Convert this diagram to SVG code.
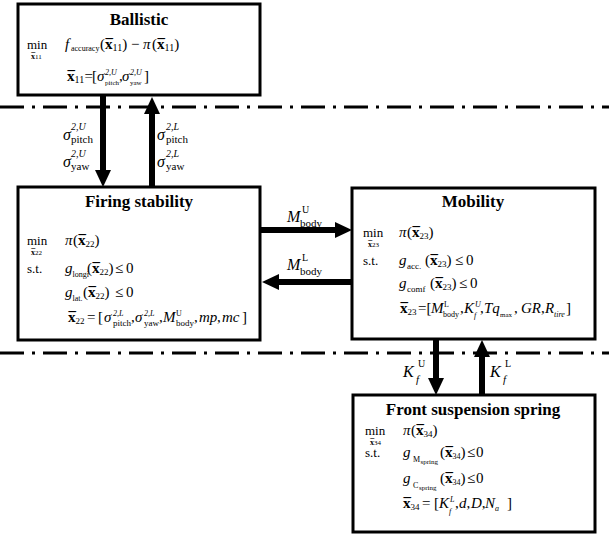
<svg xmlns="http://www.w3.org/2000/svg" width="609" height="534" viewBox="0 0 609 534">
<style>
text{font-family:"Liberation Serif","Times New Roman",serif;fill:#000}
.t{font-size:17px;font-weight:bold;text-anchor:middle}
.m{font-size:15px}
.k{font-size:13px}
.l{font-size:16px}
.i{font-style:italic}
.b{font-weight:bold}
.n{font-size:9px}
.n10{font-size:10px}
.s{font-size:8px}
.sm{font-size:9px}
.xs{font-size:7px}
.ls{font-size:11px}
.lp{font-size:10px}
.box{fill:#fff;stroke:#000;stroke-width:3}
.dd{stroke:#000;stroke-width:3;stroke-dasharray:24 8 3 8;fill:none}
.sh{stroke:#000;stroke-width:6;fill:none}
.hd{fill:#000}
</style>
<g id="connectors">
<line class="dd" x1="0" y1="107" x2="609" y2="107"/>
<line class="dd" x1="0" y1="353" x2="609" y2="353"/>
<line class="sh" x1="103" y1="96" x2="103" y2="172"/>
<polygon class="hd" points="95,170 111,170 103,187"/>
<line class="sh" x1="152" y1="187" x2="152" y2="112"/>
<polygon class="hd" points="144,114 160,114 152,97"/>
<line class="sh" x1="260" y1="230" x2="337" y2="230"/>
<polygon class="hd" points="335,222 335,238 352,230"/>
<line class="sh" x1="352" y1="282" x2="277" y2="282"/>
<polygon class="hd" points="279,274 279,290 262,282"/>
<line class="sh" x1="436" y1="340" x2="436" y2="380"/>
<polygon class="hd" points="428,378 444,378 436,395"/>
<line class="sh" x1="482" y1="395" x2="482" y2="355"/>
<polygon class="hd" points="474,357 490,357 482,340"/>
<g id="labels">
<text class="l"><tspan class="i" x="63" y="140">σ</tspan><tspan class="lp i" x="71" y="130">2,U</tspan><tspan class="ls" x="71" y="143">pitch</tspan></text>
<text class="l"><tspan class="i" x="63" y="167">σ</tspan><tspan class="lp i" x="71" y="157">2,U</tspan><tspan class="ls" x="71" y="170">yaw</tspan></text>
<text class="l"><tspan class="i" x="157" y="140">σ</tspan><tspan class="lp i" x="166" y="130">2,L</tspan><tspan class="ls" x="166" y="143">pitch</tspan></text>
<text class="l"><tspan class="i" x="157" y="167">σ</tspan><tspan class="lp i" x="166" y="157">2,L</tspan><tspan class="ls" x="166" y="170">yaw</tspan></text>
<text class="l"><tspan class="i" x="287" y="222">M</tspan><tspan class="lp" x="302" y="213">U</tspan><tspan class="ls" x="300" y="227">body</tspan></text>
<text class="l"><tspan class="i" x="287" y="270">M</tspan><tspan class="lp" x="302" y="261">L</tspan><tspan class="ls" x="300" y="275">body</tspan></text>
<text class="l"><tspan class="i" x="403" y="377">K</tspan><tspan class="lp" x="418" y="367">U</tspan><tspan class="ls i" x="416" y="383">f</tspan></text>
<text class="l"><tspan class="i" x="490" y="377">K</tspan><tspan class="lp" x="505" y="367">L</tspan><tspan class="ls i" x="503" y="383">f</tspan></text>
</g>
</g>
<g id="ballistic">
<rect class="box" x="18" y="4" width="242" height="91"/>
<text class="t" x="139" y="25">Ballistic</text>
<text class="k" x="27" y="49">min</text>
<text class="s"><tspan class="b" x="31" y="59">x</tspan><tspan class="b" x="31.3">¯</tspan><tspan class="xs" x="35">11</tspan></text>
<text class="m"><tspan class="i" x="65" y="49">f</tspan><tspan class="s" x="71" y="51">accuracy</tspan><tspan x="100" y="49">(</tspan><tspan class="b" x="105">x</tspan><tspan class="b" x="105.5">¯</tspan><tspan class="n10" x="112.5" y="51">11</tspan><tspan y="49">) − </tspan><tspan class="i" x="143">π</tspan><tspan x="152">(</tspan><tspan class="b" x="157">x</tspan><tspan class="b" x="157.5">¯</tspan><tspan class="n10" x="164.5" y="51">11</tspan><tspan y="49">)</tspan></text>
<text class="m"><tspan class="b" x="67" y="81">x</tspan><tspan class="b" x="67.5">¯</tspan><tspan class="n10" x="74.5" y="83">11</tspan><tspan x="84.5" y="81">=</tspan><tspan x="92" y="81">[</tspan><tspan class="i" x="97" y="81">σ</tspan><tspan class="s i" x="105" y="75">2,U</tspan><tspan class="xs" x="105" y="85">pitch</tspan><tspan x="119" y="81">,</tspan><tspan class="i" x="122" y="81">σ</tspan><tspan class="s i" x="130" y="75">2,U</tspan><tspan class="xs" x="130" y="85">yaw</tspan><tspan x="144" y="81">]</tspan></text>
</g>
<g id="firing-stability">
<rect class="box" x="18" y="187" width="242" height="153"/>
<text class="t" x="139" y="207">Firing stability</text>
<text class="k" x="27" y="245">min</text>
<text class="s"><tspan class="b" x="31" y="255">x</tspan><tspan class="b" x="31.3">¯</tspan><tspan class="xs" x="35">22</tspan></text>
<text class="m"><tspan class="i" x="65" y="245">π</tspan><tspan x="73">(</tspan><tspan class="b" x="78">x</tspan><tspan class="b" x="78.5">¯</tspan><tspan class="n" x="85.5" y="247">22</tspan><tspan y="245">)</tspan></text>
<text class="k" x="27" y="273">s.t.</text>
<text class="m"><tspan class="i" x="65" y="273">g</tspan><tspan class="s" x="72.5" y="277">longi</tspan><tspan x="87" y="273">(</tspan><tspan class="b" x="92">x</tspan><tspan class="b" x="92.5">¯</tspan><tspan class="n" x="99.5" y="275">22</tspan><tspan y="273">)</tspan><tspan x="115" y="273">≤</tspan><tspan x="126" y="273">0</tspan></text>
<text class="m"><tspan class="i" x="65" y="297">g</tspan><tspan class="s" x="72.5" y="301">lat.</tspan><tspan x="83" y="297">(</tspan><tspan class="b" x="88">x</tspan><tspan class="b" x="88.5">¯</tspan><tspan class="n" x="95.5" y="299">22</tspan><tspan y="297">)</tspan><tspan x="115" y="297">≤</tspan><tspan x="126" y="297">0</tspan></text>
<text class="m"><tspan class="b" x="68" y="322">x</tspan><tspan class="b" x="68.5">¯</tspan><tspan class="n" x="75.5" y="324">22</tspan><tspan x="87" y="322">=</tspan><tspan x="98" y="322">[</tspan><tspan class="i" x="104" y="322">σ</tspan><tspan class="s i" x="113" y="316">2,L</tspan><tspan class="sm" x="113" y="326">pitch</tspan><tspan x="131" y="322">,</tspan><tspan class="i" x="135" y="322">σ</tspan><tspan class="s i" x="144" y="316">2,L</tspan><tspan class="sm" x="144" y="326">yaw</tspan><tspan x="159" y="322">,</tspan><tspan class="i" x="163" y="322">M</tspan><tspan class="s" x="176" y="316">U</tspan><tspan class="sm" x="176" y="326">body</tspan><tspan x="194" y="322">,</tspan><tspan class="i" x="199" y="322">mp</tspan><tspan x="217" y="322">,</tspan><tspan class="i" x="222" y="322">mc</tspan><tspan x="242" y="322">]</tspan></text>
</g>
<g id="mobility">
<rect class="box" x="352" y="188" width="243" height="151"/>
<text class="t" x="473" y="207">Mobility</text>
<text class="k" x="363" y="237">min</text>
<text class="s"><tspan class="b" x="368" y="247">x</tspan><tspan class="b" x="368.3">¯</tspan><tspan class="xs" x="372">23</tspan></text>
<text class="m"><tspan class="i" x="399" y="237">π</tspan><tspan x="407">(</tspan><tspan class="b" x="412">x</tspan><tspan class="b" x="412.5">¯</tspan><tspan class="n" x="419.5" y="239">23</tspan><tspan y="237">)</tspan></text>
<text class="k" x="363" y="265">s.t.</text>
<text class="m"><tspan class="i" x="399" y="265">g</tspan><tspan class="sm" x="407" y="269">acc.</tspan><tspan x="425" y="265">(</tspan><tspan class="b" x="430">x</tspan><tspan class="b" x="430.5">¯</tspan><tspan class="n" x="437.5" y="267">23</tspan><tspan y="265">)</tspan><tspan x="455" y="265">≤</tspan><tspan x="466" y="265">0</tspan></text>
<text class="m"><tspan class="i" x="399" y="288">g</tspan><tspan class="sm" x="407" y="292">comf</tspan><tspan x="430" y="288">(</tspan><tspan class="b" x="435">x</tspan><tspan class="b" x="435.5">¯</tspan><tspan class="n" x="442.5" y="290">23</tspan><tspan y="288">)</tspan><tspan x="459" y="288">≤</tspan><tspan x="470" y="288">0</tspan></text>
<text class="m"><tspan class="b" x="400" y="313">x</tspan><tspan class="b" x="400.5">¯</tspan><tspan class="n" x="407.5" y="315">23</tspan><tspan x="418" y="313">=</tspan><tspan x="426.5" y="313">[</tspan><tspan class="i" x="431" y="313">M</tspan><tspan class="s" x="444" y="307">L</tspan><tspan class="s" x="443" y="317">body</tspan><tspan x="460" y="313">,</tspan><tspan class="i" x="464" y="313">K</tspan><tspan class="s i" x="475" y="307">U</tspan><tspan class="s i" x="474" y="318">f</tspan><tspan x="480" y="313">,</tspan><tspan class="i" x="484" y="313">Tq</tspan><tspan class="xs" x="500" y="317">max</tspan><tspan x="514" y="313">,</tspan><tspan class="i" x="521" y="313">GR</tspan><tspan x="541" y="313">,</tspan><tspan class="i" x="545" y="313">R</tspan><tspan class="s i" x="554" y="317">tire</tspan><tspan x="566" y="313">]</tspan></text>
</g>
<g id="front-suspension-spring">
<rect class="box" x="353" y="395" width="242" height="137"/>
<text class="t" x="473" y="415">Front suspension spring</text>
<text class="k" x="365" y="435">min</text>
<text class="s"><tspan class="b" x="370" y="445">x</tspan><tspan class="b" x="370.3">¯</tspan><tspan class="xs" x="374">34</tspan></text>
<text class="m"><tspan class="i" x="403" y="435">π</tspan><tspan x="411">(</tspan><tspan class="b" x="416">x</tspan><tspan class="b" x="416.5">¯</tspan><tspan class="n" x="423.5" y="437">34</tspan><tspan y="435">)</tspan></text>
<text class="k" x="365" y="457">s.t.</text>
<text class="m"><tspan class="i" x="403" y="457">g</tspan><tspan class="s" x="413" y="462">M</tspan><tspan class="xs" font-size="6" x="420.5" y="464">spring</tspan><tspan x="440" y="457">(</tspan><tspan class="b" x="445">x</tspan><tspan class="b" x="445.5">¯</tspan><tspan class="s" x="452.5" y="459">34</tspan><tspan y="457">)</tspan><tspan x="467" y="457">≤</tspan><tspan x="476" y="457">0</tspan></text>
<text class="m"><tspan class="i" x="403" y="483">g</tspan><tspan class="s" x="413" y="488">C</tspan><tspan class="xs" font-size="6" x="419" y="490">spring</tspan><tspan x="440" y="483">(</tspan><tspan class="b" x="445">x</tspan><tspan class="b" x="445.5">¯</tspan><tspan class="s" x="452.5" y="485">34</tspan><tspan y="483">)</tspan><tspan x="467" y="483">≤</tspan><tspan x="476" y="483">0</tspan></text>
<text class="m"><tspan class="b" x="403" y="508">x</tspan><tspan class="b" x="403.5">¯</tspan><tspan class="n" x="410.5" y="510">34</tspan><tspan x="422" y="508">=</tspan><tspan x="434" y="508">[</tspan><tspan class="i" x="439" y="508">K</tspan><tspan class="s i" x="450" y="502">L</tspan><tspan class="s i" x="449" y="514">f</tspan><tspan x="455" y="508">,</tspan><tspan class="i" x="459" y="508">d</tspan><tspan>,</tspan><tspan class="i" x="471" y="508">D</tspan><tspan>,</tspan><tspan class="i" x="485" y="508">N</tspan><tspan class="s i" y="511">a</tspan><tspan x="507" y="508">]</tspan></text>
</g>
</svg>
